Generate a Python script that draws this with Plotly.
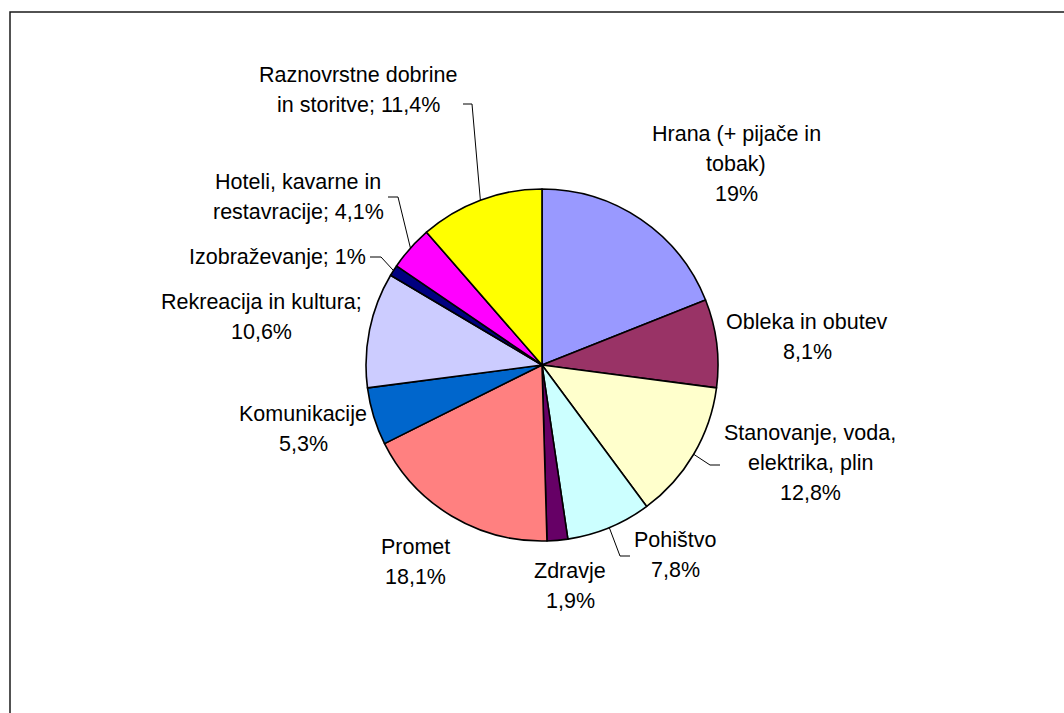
import math
import plotly.graph_objects as go

# ---- data -------------------------------------------------------------
categories = [
    "Hrana (+ pijače in tobak)",
    "Obleka in obutev",
    "Stanovanje, voda, elektrika, plin",
    "Pohištvo",
    "Zdravje",
    "Promet",
    "Komunikacije",
    "Rekreacija in kultura",
    "Izobraževanje",
    "Hoteli, kavarne in restavracije",
    "Raznovrstne dobrine in storitve",
]
shares = [19, 8.1, 12.8, 7.8, 1.9, 18.1, 5.3, 10.6, 1, 4.1, 11.4]

# label text per slice, "{p}" is replaced by the formatted share
label_templates = [
    ["Hrana (+ pijače in", "tobak)", "{p}"],
    ["Obleka in obutev", "{p}"],
    ["Stanovanje, voda,", "elektrika, plin", "{p}"],
    ["Pohištvo", "{p}"],
    ["Zdravje", "{p}"],
    ["Promet", "{p}"],
    ["Komunikacije", "{p}"],
    ["Rekreacija in kultura;", "{p}"],
    ["Izobraževanje; {p}"],
    ["Hoteli, kavarne in", "restavracije; {p}"],
    ["Raznovrstne dobrine", "in storitve; {p}"],
]

colors = ["#9999FF", "#993366", "#FFFFCC", "#CCFFFF", "#660066", "#FF8080",
          "#0066CC", "#CCCCFF", "#000080", "#FF00FF", "#FFFF00"]

# ---- layout (pixels) --------------------------------------------------
W, H = 1064, 713
CX, CY, R = 542, 365, 176
FONT = "Liberation Sans, Arial, sans-serif"
FSIZE = 21.5
LINE_GAP = 30

# label block: (center x, y of first line)
label_pos = [
    (736, 134), (807, 322), (810, 433), (675, 540), (570, 571),
    (415, 547), (303, 414), (261, 302), (277, 257), (298, 182), (358, 75),
]
# leader lines: index -> (start point at text, elbow point)
leaders = {
    10: ((463, 104), (472, 104)),
    9: ((388, 197), (398, 197)),
    8: ((370, 257), (381, 257)),
    2: ((720, 465), (710, 465)),
    3: ((630, 556), (620, 556)),
}


def px(x):
    return x / W


def py(y):
    return 1 - y / H


def fmt(v):
    s = ("%g" % v).replace(".", ",")
    return s + "%"


fig = go.Figure()
fig.add_trace(go.Pie(
    labels=categories,
    values=shares,
    sort=False,
    direction="clockwise",
    rotation=0,
    textinfo="none",
    hoverinfo="label+percent",
    marker=dict(colors=colors, line=dict(color="black", width=1.6)),
    domain=dict(x=[px(CX - R), px(CX + R)], y=[py(CY + R), py(CY - R)]),
    showlegend=False,
))

annotations = []
for tmpl, (lx, ly), v in zip(label_templates, label_pos, shares):
    for k, line in enumerate(tmpl):
        annotations.append(dict(
            x=px(lx), y=py(ly + k * LINE_GAP), xref="paper", yref="paper",
            text=line.replace("{p}", fmt(v)), showarrow=False,
            xanchor="center", yanchor="middle",
            font=dict(family=FONT, size=FSIZE, color="black"),
        ))

# leader lines end on the slice edge at its mid-angle
total = sum(shares)
cum = 0.0
mid_angles = []
for v in shares:
    mid_angles.append((cum + v / 2) / total * 2 * math.pi)
    cum += v

shapes = []
for i, (p0, p1) in leaders.items():
    a = mid_angles[i]
    ex, ey = CX + R * math.sin(a), CY - R * math.cos(a)
    path = "M {} {} L {} {} L {} {}".format(
        px(p0[0]), py(p0[1]), px(p1[0]), py(p1[1]), px(ex), py(ey))
    shapes.append(dict(type="path", xref="paper", yref="paper", path=path,
                       line=dict(color="black", width=1)))

# chart area border
shapes.append(dict(type="rect", xref="paper", yref="paper",
                   x0=px(10), y0=py(12), x1=px(W + 10), y1=py(H + 10),
                   line=dict(color="#1a1a1a", width=1.5)))

fig.update_layout(
    width=W, height=H,
    margin=dict(l=0, r=0, t=0, b=0),
    paper_bgcolor="white", plot_bgcolor="white",
    annotations=annotations, shapes=shapes,
)

fig.write_html("out.html")
